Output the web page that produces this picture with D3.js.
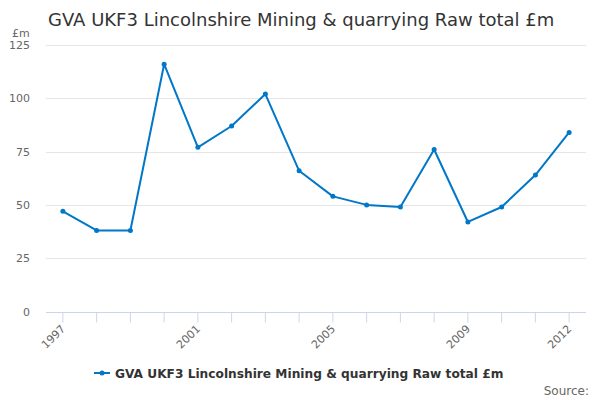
<!DOCTYPE html>
<html><head><meta charset="utf-8">
<script src="https://cdn.jsdelivr.net/npm/d3@7"></script>
<style>body{margin:0;background:#fff;font-family:"DejaVu Sans",Verdana,sans-serif;}</style>
</head><body><svg id="c" width="600" height="400"></svg>
<script>
const years = ["1997","1998","1999","2000","2001","2002","2003","2004","2005","2006","2007","2008","2009","2010","2011","2012"];
const values = [47,38,38,116,77,87,102,66,54,50,49,76,42,49,64,84];
const yTicks = [0,25,50,75,100,125];
const xLabels = ["1997","2001","2005","2009","2012"];
const title = "GVA UKF3 Lincolnshire Mining & quarrying Raw total £m";
const seriesName = "GVA UKF3 Lincolnshire Mining & quarrying Raw total £m";

const svg = d3.select("#c");
const color = "#0077c8";
const x = d3.scaleBand().domain(years).range([46,586]);
const y = d3.scaleLinear().domain([0,125]).range([311.5,45]);

svg.append("text").attr("x",48).attr("y",26).attr("font-size",18).attr("fill","#333").text(title);
svg.append("text").attr("x",12).attr("y",37).attr("font-size",11).attr("fill","#666").text("£m");

// grid
svg.append("g").selectAll("line").data(yTicks.filter(d=>d>0)).join("line")
 .attr("x1",46).attr("x2",586).attr("y1",d=>Math.round(y(d))+0.5).attr("y2",d=>Math.round(y(d))+0.5)
 .attr("stroke","#e6e6e6");
svg.append("g").selectAll("text").data(yTicks).join("text")
 .attr("x",30).attr("y",d=>y(d)+4).attr("text-anchor","end").attr("font-size",11).attr("fill","#666").text(d=>d);

// x axis
const xa = svg.append("g").attr("transform","translate(0,"+(Math.round(y(0))+0.5)+")");
xa.append("line").attr("x1",46).attr("x2",586).attr("stroke","#ccd6eb");
xa.selectAll("line.t").data(years).join("line").attr("class","t")
 .attr("x1",d=>x(d)+x.bandwidth()/2).attr("x2",d=>x(d)+x.bandwidth()/2).attr("y1",0).attr("y2",10).attr("stroke","#ccd6eb");
xa.selectAll("text").data(xLabels).join("text")
 .attr("transform",d=>"translate("+(x(d)+x.bandwidth()/2+3)+",17) rotate(-45)")
 .attr("text-anchor","end").attr("font-size",11).attr("fill","#666").text(d=>d);

// line
const pts = years.map((d,i)=>[x(d)+x.bandwidth()/2, y(values[i])]);
svg.append("path").attr("d",d3.line()(pts)).attr("fill","none").attr("stroke",color).attr("stroke-width",2).attr("stroke-linejoin","round");
svg.append("g").selectAll("circle").data(pts).join("circle").attr("cx",d=>d[0]).attr("cy",d=>d[1]).attr("r",2.5).attr("fill",color);

// legend
const lg = svg.append("g");
lg.append("line").attr("x1",94).attr("x2",110).attr("y1",373).attr("y2",373).attr("stroke",color).attr("stroke-width",2);
lg.append("circle").attr("cx",102).attr("cy",373).attr("r",2.5).attr("fill",color);
lg.append("text").attr("x",115).attr("y",377.5).attr("font-size",12.2).attr("font-weight","bold").attr("fill","#333").text(seriesName);

svg.append("text").attr("x",589).attr("y",395).attr("text-anchor","end").attr("font-size",12).attr("fill","#666").text("Source:");
</script></body></html>
